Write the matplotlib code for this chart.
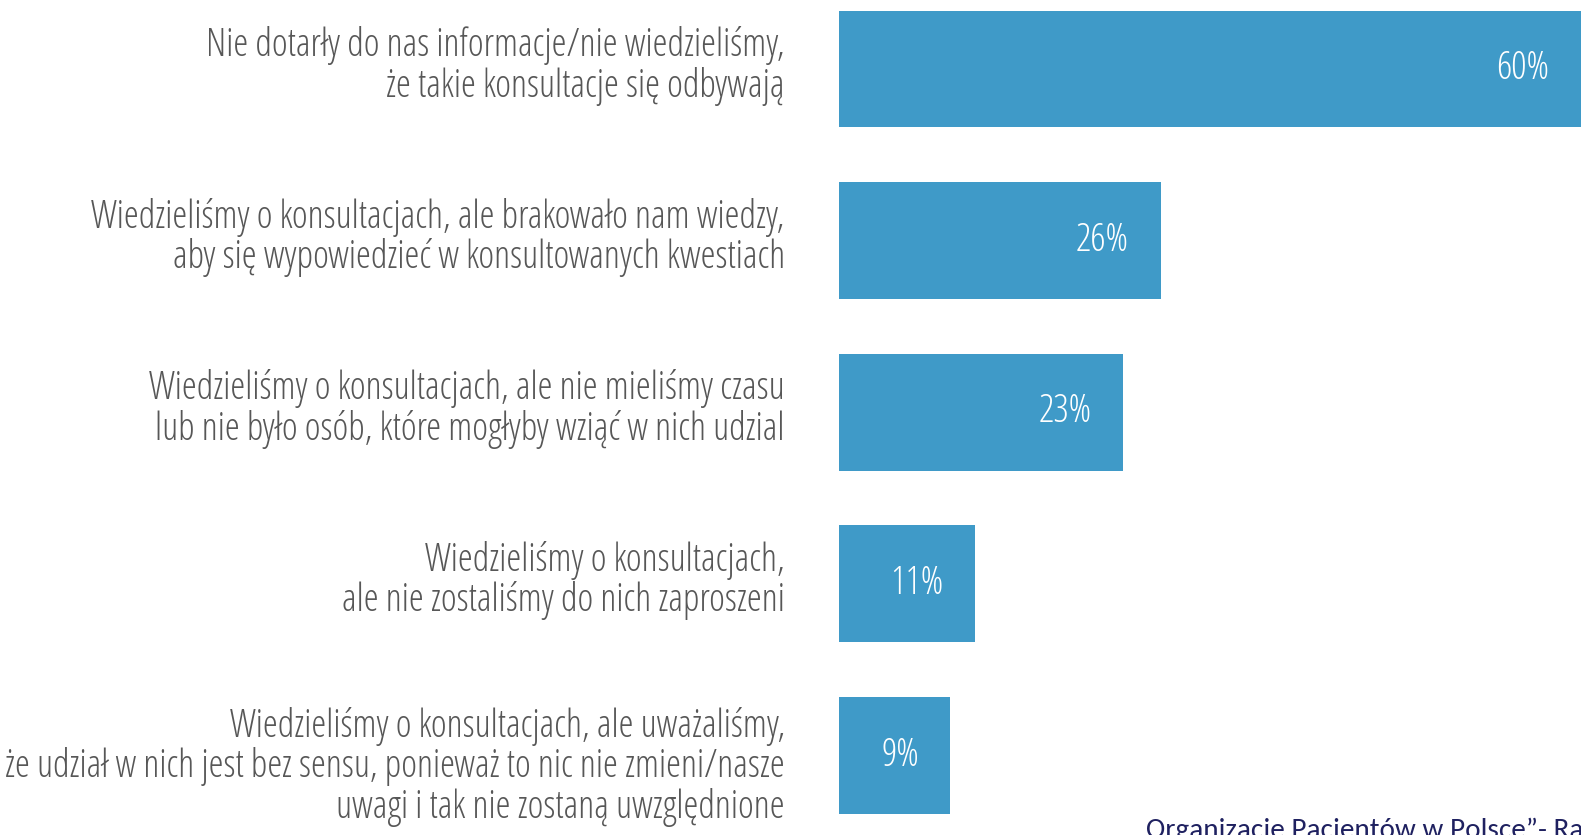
import matplotlib
matplotlib.use("Agg")
import matplotlib.pyplot as plt
import matplotlib.transforms as mtransforms
from matplotlib.font_manager import FontProperties

categories = [
    "Nie dotarły do nas informacje/nie wiedzieliśmy,\nże takie konsultacje się odbywają",
    "Wiedzieliśmy o konsultacjach, ale brakowało nam wiedzy,\naby się wypowiedzieć w konsultowanych kwestiach",
    "Wiedzieliśmy o konsultacjach, ale nie mieliśmy czasu\nlub nie było osób, które mogłyby wziąć w nich udzial",
    "Wiedzieliśmy o konsultacjach,\nale nie zostaliśmy do nich zaproszeni",
    "Wiedzieliśmy o konsultacjach, ale uważaliśmy,\nże udział w nich jest bez sensu, ponieważ to nic nie zmieni/nasze\nuwagi i tak nie zostaną uwzględnione",
]
values = [60, 26, 23, 11, 9]
value_labels = ["60%", "26%", "23%", "11%", "9%"]
source_text = "Organizacje Pacjentów w Polsce”- Raport"

W, H = 1581, 835
fig = plt.figure(figsize=(W / 100, H / 100), dpi=100)
fig.patch.set_facecolor("white")

label_fp = FontProperties(family="Open Sans", stretch="condensed", weight="light", size=27.3)
value_fp = FontProperties(family="Open Sans", stretch="condensed", weight="light", size=27.5)

# axes in pixel geometry
left_px = 839
spacing = 171.6
top_center = 69
ax_top = top_center - spacing / 2
ax_h = spacing * len(values)
ax = fig.add_axes([left_px / W, (H - (ax_top + ax_h)) / H, (W - left_px) / W, ax_h / H])
ax.set_xlim(0, 60)
ax.set_ylim(len(values) - 0.5, -0.5)

y = list(range(len(values)))
ax.barh(y, values, height=0.68, color="#3f9ac8", edgecolor="none")

for yi, v, lab in zip(y, values, value_labels):
    ax.text(v - 2.55, yi, lab, ha="right", va="center", color="white",
            fontproperties=value_fp)

# category labels to the left of the bars
base = mtransforms.blended_transform_factory(ax.transAxes, ax.transData)
for yi, lab in zip(y, categories):
    nlines = lab.count("\n") + 1
    dy = 2.3 if nlines == 2 else -8.0  # points upward
    tr = base + mtransforms.ScaledTranslation(-39 / 72, dy / 72, fig.dpi_scale_trans)
    ax.text(0, yi, lab, transform=tr, ha="right", va="center", multialignment="right",
            color="#575757", fontproperties=label_fp, linespacing=1.05)

ax.set_yticks([])
ax.set_xticks([])
for s in ax.spines.values():
    s.set_visible(False)
ax.set_facecolor("none")

fig.text(1146 / W, 1 - 838 / H, source_text, ha="left", va="baseline",
         color="#1f2160", fontsize=21, family=["Carlito", "Open Sans", "DejaVu Sans"])

fig.savefig("out.png", dpi=100)
